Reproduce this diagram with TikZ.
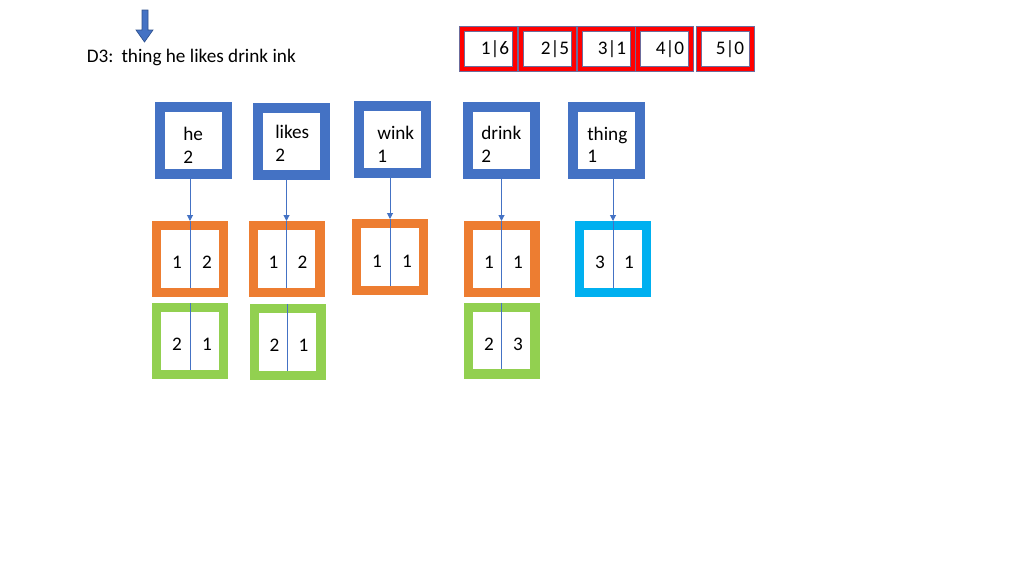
\documentclass[tikz,border=0pt]{standalone}
\usepackage{fontspec}
\setmainfont{Carlito}
\usetikzlibrary{arrows.meta}
\definecolor{bblue}{HTML}{4472C4}
\definecolor{bdark}{HTML}{2F528F}
\definecolor{borange}{HTML}{ED7D31}
\definecolor{bgreen}{HTML}{92D050}
\definecolor{bcyan}{HTML}{00B0F0}
\definecolor{bred}{HTML}{FF0000}
\definecolor{slate}{HTML}{6C6C9C}
\begin{document}
\begin{tikzpicture}[x=0.75pt,y=-0.75pt,
  every node/.style={font=\fontsize{14.4}{17}\selectfont},
  wordbox/.style={draw=bblue, line width=7.5pt, fill=white, minimum width=50.25pt, minimum height=50.25pt, inner sep=0pt},
  postbox/.style={draw=#1, line width=7.1pt, fill=white, minimum width=49.9pt, minimum height=49.9pt, inner sep=0pt},
  countbox/.style={draw=slate, double=bred, double distance=3.6pt, line width=0.45pt, fill=white, minimum width=39.7pt, minimum height=30pt, inner sep=0pt},
  txt/.style={inner sep=0pt, anchor=base west},
  num/.style={inner sep=0pt, anchor=base},
  conn/.style={draw=bblue, line width=0.75pt},
  tip/.style={-{Triangle[length=4.5pt,width=4.5pt]}}
]
\useasboundingbox (0,0) rectangle (1024,576);

% top arrow
\filldraw[fill=bblue, draw=bdark, line width=0.5pt] (142,10) -- (148,10) -- (148,30) -- (153,30) -- (144.5,42) -- (136,30) -- (142,30) -- cycle;
\node[txt] (title) at (86.5,62) {D3:\hspace{0.42em}thing he likes drink ink};

% count boxes
\node[countbox] (c1) at (488.5,49) {};
\node[countbox] (c2) at (547.5,49) {};
\node[countbox] (c3) at (606.5,49) {};
\node[countbox] (c4) at (664.5,49) {};
\node[countbox] (c5) at (725.5,49) {};
\node[num] (c1t) at (495,54) {1|6};
\node[num] (c2t) at (555,54) {2|5};
\node[num] (c3t) at (612,54) {3|1};
\node[num] (c4t) at (670,54) {4|0};
\node[num] (c5t) at (730,54) {5|0};

% word boxes
\node[wordbox] (heW) at (193.5,140.5) {};
\node[wordbox] (likesW) at (291.5,141) {};
\node[wordbox] (winkW) at (392.5,139.5) {};
\node[wordbox] (drinkW) at (501.5,140.5) {};
\node[wordbox] (thingW) at (606.5,140.5) {};
\node[txt] (heA) at (183,140) {he};
\node[txt] (heB) at (183,163) {2};
\node[txt] (likesA) at (275,138) {likes};
\node[txt] (likesB) at (275,161) {2};
\node[txt] (winkA) at (377,139) {wink};
\node[txt] (winkB) at (377,162) {1};
\node[txt] (drinkA) at (481,139) {drink};
\node[txt] (drinkB) at (481,162) {2};
\node[txt] (thingA) at (587,140) {thing};
\node[txt] (thingB) at (587,162) {1};

% posting boxes
\node[postbox=borange] (heP) at (190,259) {};
\node[postbox=borange] (likesP) at (286.5,259) {};
\node[postbox=borange] (winkP) at (390,257) {};
\node[postbox=borange] (drinkP) at (501.5,259) {};
\node[postbox=bcyan] (thingP) at (613,259) {};
\node[postbox=bgreen] (heG) at (190,341) {};
\node[postbox=bgreen] (likesG) at (287.5,342) {};
\node[postbox=bgreen] (drinkG) at (501.5,340.5) {};

\node[num] (heP1) at (177,268) {1};
\node[num] (heP2) at (207,268) {2};
\node[num] (likesP1) at (273.5,268) {1};
\node[num] (likesP2) at (302.5,268) {2};
\node[num] (winkP1) at (377,267) {1};
\node[num] (winkP2) at (407,267) {1};
\node[num] (drinkP1) at (489,268) {1};
\node[num] (drinkP2) at (518,268) {1};
\node[num] (thingP1) at (600,268) {3};
\node[num] (thingP2) at (629,268) {1};
\node[num] (heG1) at (177,350) {2};
\node[num] (heG2) at (207,350) {1};
\node[num] (likesG1) at (274.5,351) {2};
\node[num] (likesG2) at (303.5,351) {1};
\node[num] (drinkG1) at (489,350) {2};
\node[num] (drinkG2) at (518,350) {3};

% connectors
\foreach \w in {he,likes,wink,drink,thing}{
  \draw[conn,tip] (\w W.south -| \w P.north) -- (\w P.north);
  \draw[conn] (\w P.north) -- ([yshift=7.1pt]\w P.south);
}
\foreach \w in {he,likes,drink}{
  \draw[conn] (\w G.north) -- ([yshift=7.1pt]\w G.south);
}
\end{tikzpicture}
\end{document}
